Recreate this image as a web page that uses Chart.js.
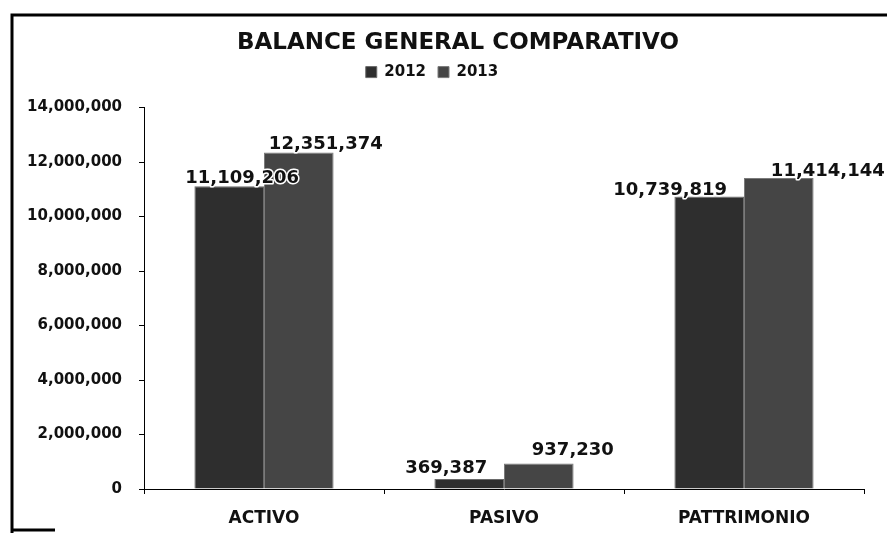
<!DOCTYPE html>
<html>
<head>
<meta charset="utf-8">
<script src="https://cdn.jsdelivr.net/npm/chart.js@4.4.0/dist/chart.umd.min.js"></script>
<style>
    html, body { margin: 0; padding: 0; background: #fff; }
    #wrap { width: 887px; height: 533px; position: relative; }
</style>
</head>
<body>
<div id="wrap"><canvas id="balance-chart"></canvas></div>
<script>
// Chart data
const categories = ['ACTIVO', 'PASIVO', 'PATTRIMONIO'];
const seriesNames = ['2012', '2013'];
const values2012 = [11109206, 369387, 10739819];
const values2013 = [12351374, 937230, 11414144];
const yTicks = [0, 2000000, 4000000, 6000000, 8000000, 10000000, 12000000, 14000000];

const FONT = "'DejaVu Sans', sans-serif";

// Value labels sit a bit off the bars in the original, nudge them
const labelOffsets = [
    [[13, -3], [-23, -6], [-39, -1]],
    [[27, -4], [34, -8], [49, -2]]
];

// Page frame (scanned sheet border)
const framePlugin = {
    id: 'frame',
    beforeDraw(chart) {
        const c = chart.ctx;
        c.save();
        c.fillStyle = '#fff';
        c.fillRect(0, 0, chart.width, chart.height);
        c.strokeStyle = '#000';
        c.lineWidth = 3;
        c.beginPath();
        c.moveTo(12, 533);
        c.lineTo(12, 15);
        c.lineTo(887, 15);
        c.stroke();
        c.beginPath();
        c.moveTo(11, 530);
        c.lineTo(55, 530);
        c.stroke();
        c.restore();
    }
};

// Extra gap under the legend, and title sits a bit right of centre
const layoutTweaksPlugin = {
    id: 'layoutTweaks',
    beforeInit(chart) {
        const fit = chart.legend.fit;
        chart.legend.fit = function () {
            fit.bind(chart.legend)();
            this.height += 18;
        };
        const title = chart.titleBlock;
        const draw = title.draw;
        title.draw = function () {
            const c = chart.ctx;
            c.save();
            c.translate(26, 0);
            draw.bind(title)();
            c.restore();
        };
    }
};

// Data labels above bars
const valueLabelPlugin = {
    id: 'valueLabels',
    afterDatasetsDraw(chart) {
        const c = chart.ctx;
        c.save();
        c.font = 'bold 18px ' + FONT;
        c.textAlign = 'center';
        c.textBaseline = 'alphabetic';
        c.lineJoin = 'round';
        chart.data.datasets.forEach((ds, i) => {
            const meta = chart.getDatasetMeta(i);
            meta.data.forEach((bar, j) => {
                const text = ds.data[j].toLocaleString('en-US');
                const off = labelOffsets[i][j];
                const x = bar.x + off[0];
                const y = bar.y + off[1];
                c.strokeStyle = '#fff';
                c.lineWidth = 3;
                c.strokeText(text, x, y);
                c.fillStyle = '#111';
                c.fillText(text, x, y);
            });
        });
        c.restore();
    }
};

const ctx = document.getElementById('balance-chart');
new Chart(ctx, {
    type: 'bar',
    data: {
        labels: categories,
        datasets: [{
            label: seriesNames[0],
            data: values2012,
            backgroundColor: '#2e2e2e',
            borderColor: '#6a6a6a',
            borderWidth: 1
        }, {
            label: seriesNames[1],
            data: values2013,
            backgroundColor: '#454545',
            borderColor: '#7a7a7a',
            borderWidth: 1
        }]
    },
    options: {
        responsive: true,
        maintainAspectRatio: false,
        animation: false,
        layout: {
            padding: { left: 0, right: 23, top: 0, bottom: 0 }
        },
        datasets: {
            bar: {
                barPercentage: 1,
                categoryPercentage: 0.58
            }
        },
        plugins: {
            title: {
                display: true,
                text: 'BALANCE GENERAL COMPARATIVO',
                color: '#111',
                font: { family: FONT, size: 23, weight: 'bold' },
                padding: { top: 29, bottom: -4 }
            },
            legend: {
                display: true,
                position: 'top',
                labels: {
                    color: '#111',
                    font: { family: FONT, size: 15, weight: 'bold' },
                    boxWidth: 11,
                    boxHeight: 11,
                    padding: 12
                }
            },
            tooltip: { enabled: false }
        },
        scales: {
            x: {
                grid: {
                    drawOnChartArea: false,
                    drawTicks: true,
                    tickLength: 5,
                    color: '#000'
                },
                border: { display: true, color: '#000', width: 1 },
                ticks: {
                    color: '#111',
                    padding: 14,
                    font: { family: FONT, size: 17, weight: 'bold' }
                },
                afterFit(scale) {
                    scale.height = 44;
                }
            },
            y: {
                min: 0,
                max: 14000000,
                afterBuildTicks(scale) {
                    scale.ticks = yTicks.map(v => ({ value: v }));
                },
                grid: {
                    drawOnChartArea: false,
                    drawTicks: true,
                    tickLength: 5,
                    color: '#000'
                },
                border: { display: true, color: '#000', width: 1 },
                ticks: {
                    color: '#111',
                    padding: 17,
                    font: { family: FONT, size: 15, weight: 'bold' },
                    callback: v => v.toLocaleString('en-US')
                },
                afterFit(scale) {
                    scale.width = 144;
                }
            }
        }
    },
    plugins: [framePlugin, layoutTweaksPlugin, valueLabelPlugin]
});
</script>
</body>
</html>
